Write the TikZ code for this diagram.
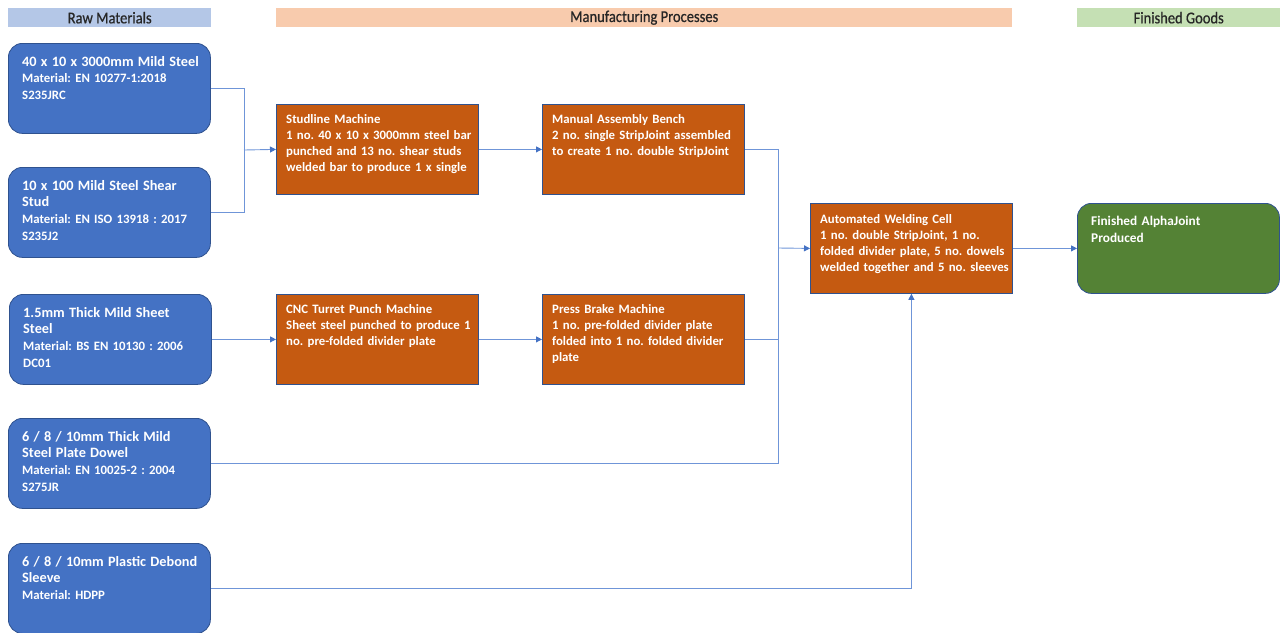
\documentclass[tikz,border=0pt]{standalone}
\usepackage{fontspec}
\setmainfont{Carlito}
\usetikzlibrary{arrows.meta}
\definecolor{bluebox}{HTML}{4472C4}
\definecolor{blueedge}{HTML}{2F528F}
\definecolor{orangebox}{HTML}{C55A11}
\definecolor{greenbox}{HTML}{548235}
\definecolor{hdrblue}{HTML}{B4C7E7}
\definecolor{hdrorange}{HTML}{F8CBAD}
\definecolor{hdrgreen}{HTML}{C5E0B4}
\definecolor{connblue}{HTML}{6F95D8}
\definecolor{hdrtext}{HTML}{262626}
\newcommand{\ttl}{\fontsize{14.3}{16.8}\selectfont}
\newcommand{\hdrfont}{\fontsize{16.5}{18}\selectfont\addfontfeatures{FakeBold=0.6,FakeStretch=0.88}}
\begin{document}
\frenchspacing
\begin{tikzpicture}[x=1pt,y=-1pt,
  rawbox/.style={draw=blueedge, fill=bluebox, rounded corners=14pt, line width=0.8pt,
    minimum width=202pt, minimum height=90pt, inner sep=0pt, anchor=north west},
  procbox/.style={draw=blueedge, fill=orangebox, line width=0.8pt,
    minimum width=202pt, minimum height=90pt, inner sep=0pt, anchor=north west},
  finbox/.style={draw=blueedge, fill=greenbox, rounded corners=14pt, line width=0.8pt,
    minimum width=202pt, minimum height=90pt, inner sep=0pt, anchor=north west},
  hdr/.style={minimum height=19pt, inner sep=0pt, anchor=north west, text=hdrtext,
    font=\hdrfont},
  txt/.style={anchor=base west, inner sep=0pt, text=white, align=left,
    text width=195pt, font=\bfseries\fontsize{12.8}{16.8}\selectfont},
  ptxt/.style={txt, font=\bfseries\fontsize{12.8}{16.3}\selectfont},
  conn/.style={draw=connblue, line width=0.9pt},
  arr/.style={conn, -{Triangle[length=6pt,width=6pt,color=bluebox]}}
]
\useasboundingbox (0,0) rectangle (1284,632);
% headers
\node[hdr, fill=hdrblue, minimum width=203pt] (h1) at (8,8) {Raw Materials};
\node[hdr, fill=hdrorange, minimum width=736pt] (h2) at (276,8) {Manufacturing Processes};
\node[hdr, fill=hdrgreen, minimum width=203pt] (h3) at (1077,8) {Finished Goods};
% raw materials
\node[rawbox] (b1) at (8,43) {};
\node[rawbox] (b2) at (8,167) {};
\node[rawbox] (b3) at (9,294) {};
\node[rawbox] (b4) at (8,418) {};
\node[rawbox] (b5) at (8,543) {};
\node[txt] (t1) at (22,66) {{\ttl 40 x 10 x 3000mm Mild Steel}\\Material: EN 10277-1:2018\\S235JRC};
\node[txt] (t2) at (22,190) {{\ttl 10 x 100 Mild Steel Shear}\\{\ttl Stud}\\Material: EN ISO 13918 : 2017\\S235J2};
\node[txt] (t3) at (23,317) {{\ttl 1.5mm Thick Mild Sheet}\\{\ttl Steel}\\Material: BS EN 10130 : 2006\\DC01};
\node[txt] (t4) at (22,441) {{\ttl 6 / 8 / 10mm Thick Mild}\\{\ttl Steel Plate Dowel}\\Material: EN 10025-2 : 2004\\S275JR};
\node[txt] (t5) at (22,566) {{\ttl 6 / 8 / 10mm Plastic Debond}\\{\ttl Sleeve}\\Material: HDPP};
% processes
\node[procbox] (stud) at (276,104) {};
\node[procbox] (man) at (542,104) {};
\node[procbox] (cnc) at (276,294) {};
\node[procbox] (press) at (542,294) {};
\node[procbox] (weld) at (810,203) {};
\node[finbox] (fin) at (1077,203) {};
\node[ptxt] (t6) at (286,123) {Studline Machine\\1 no. 40 x 10 x 3000mm steel bar\\punched and 13 no. shear studs\\welded bar to produce 1 x single};
\node[ptxt] (t7) at (552,123) {Manual Assembly Bench\\2 no. single StripJoint assembled\\to create 1 no. double StripJoint};
\node[ptxt] (t8) at (286,313) {CNC Turret Punch Machine\\Sheet steel punched to produce 1\\no. pre-folded divider plate};
\node[ptxt] (t9) at (552,313) {Press Brake Machine\\1 no. pre-folded divider plate\\folded into 1 no. folded divider\\plate};
\node[ptxt] (t10) at (820,223) {Automated Welding Cell\\1 no. double StripJoint, 1 no.\\folded divider plate, 5 no. dowels\\welded together and 5 no. sleeves};
\node[txt, font=\bfseries\fontsize{13.3}{17.8}\selectfont] (t11) at (1091,225) {Finished AlphaJoint\\Produced};
% connectors
\coordinate (j1) at (244,150);
\coordinate (j2) at (778,248);
\draw[conn] (b1.east) -| (j1);
\draw[conn] (b2.east) -| (j1);
\draw[arr] (j1) -- (stud.west);
\draw[arr] (stud.east) -- (man.west);
\draw[arr] (b3.east) -- (cnc.west);
\draw[arr] (cnc.east) -- (press.west);
\draw[conn] (man.east) -| (j2);
\draw[conn] (press.east) -| (j2);
\draw[conn] (b4.east) -| (j2);
\draw[arr] (j2) -- (weld.west);
\draw[arr] (b5.east) -| (weld.south);
\draw[arr] (weld.east) -- (fin.west);
\end{tikzpicture}
\end{document}
